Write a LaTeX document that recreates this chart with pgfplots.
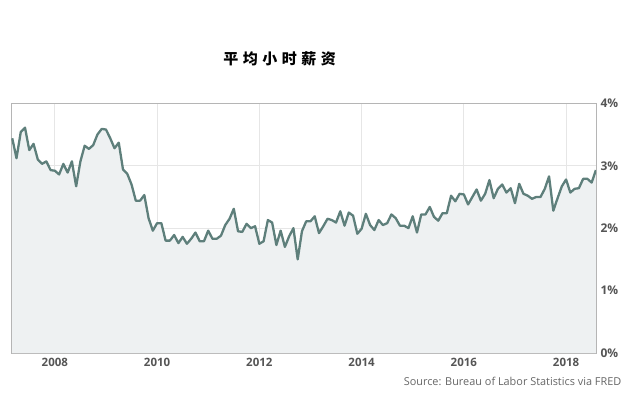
\documentclass[border=0pt]{standalone}
\usepackage{pgfplots}
\pgfplotsset{compat=1.18}
\usepackage{pgfplotstable}
\usepackage{fontspec}
\setmainfont{Open Sans}
\newfontfamily\cjk{Noto Sans CJK SC}
\definecolor{linec}{HTML}{5E7F7B}
\definecolor{fillc}{HTML}{EEF1F2}
\definecolor{gridc}{HTML}{E6E6E6}
\definecolor{boxc}{HTML}{B5B5B5}
\definecolor{labc}{HTML}{555555}
\definecolor{srcc}{HTML}{666666}
% Year-over-year change of average hourly earnings, Mar 2007 - Aug 2018
\pgfplotstableread{
v
3.44
3.12
3.54
3.61
3.25
3.35
3.10
3.03
3.07
2.93
2.92
2.86
3.03
2.89
3.07
2.67
3.07
3.32
3.27
3.33
3.50
3.59
3.58
3.44
3.28
3.37
2.94
2.87
2.70
2.44
2.44
2.53
2.16
1.96
2.08
2.08
1.80
1.80
1.89
1.76
1.86
1.75
1.83
1.93
1.79
1.79
1.96
1.83
1.83
1.88
2.05
2.15
2.31
1.95
1.94
2.07
2.00
2.03
1.75
1.79
2.13
2.09
1.73
1.96
1.70
1.87
2.00
1.50
1.95
2.11
2.11
2.19
1.92
2.03
2.15
2.13
2.09
2.27
2.04
2.25
2.20
1.91
1.99
2.23
2.05
1.97
2.13
2.05
2.08
2.22
2.16
2.04
2.04
2.00
2.19
1.93
2.22
2.22
2.34
2.18
2.12
2.24
2.24
2.52
2.43
2.55
2.54
2.38
2.50
2.62
2.44
2.55
2.77
2.48
2.63
2.70
2.57
2.64
2.40
2.71
2.55
2.52
2.47
2.50
2.50
2.63
2.83
2.28
2.48
2.67
2.78
2.57
2.63
2.64
2.79
2.79
2.73
2.93
}\data
\begin{document}
\begin{tikzpicture}
\useasboundingbox (0pt,0pt) rectangle (637pt,397pt);
\begin{axis}[
  at={(11.5pt,44pt)}, anchor=south west,
  scale only axis, width=584.5pt, height=249.7pt,
  xmin=2007.152, xmax=2018.585, ymin=0, ymax=4,
  xtick={2008,2010,2012,2014,2016,2018},
  xticklabels={2008,2010,2012,2014,2016,2018},
  ytick={0,1,2,3,4},
  yticklabels={0\%,1\%,2\%,3\%,4\%},
  yticklabel pos=right,
  grid=major,
  grid style={gridc, line width=0.8pt},
  axis line style={boxc, line width=1pt},
  tick style={draw=none},
  xticklabel style={font=\fontsize{11.5}{13}\selectfont\bfseries, text=labc, yshift=-2pt},
  yticklabel style={font=\fontsize{12}{14}\selectfont\bfseries, text=labc, anchor=west, xshift=1pt},
]
\addplot[fill=fillc, draw=none] table[x expr={2007+(\coordindex+2)/12}, y=v] {\data} \closedcycle;
\addplot[linec, line width=2.3pt, line join=round, mark=none] table[x expr={2007+(\coordindex+2)/12}, y=v] {\data};
\end{axis}
\node[font=\cjk\bfseries\fontsize{15}{17}\selectfont, anchor=center] at (279.5pt,338pt) {平\kern4.5pt均\kern4.5pt小\kern4.5pt时\kern4.5pt薪\kern4.5pt资};
\node[font=\fontsize{10.9}{12}\selectfont, text=srcc, anchor=base east, inner sep=0pt] at (621.5pt,12pt) {Source: Bureau of Labor Statistics via FRED};
\end{tikzpicture}
\end{document}
